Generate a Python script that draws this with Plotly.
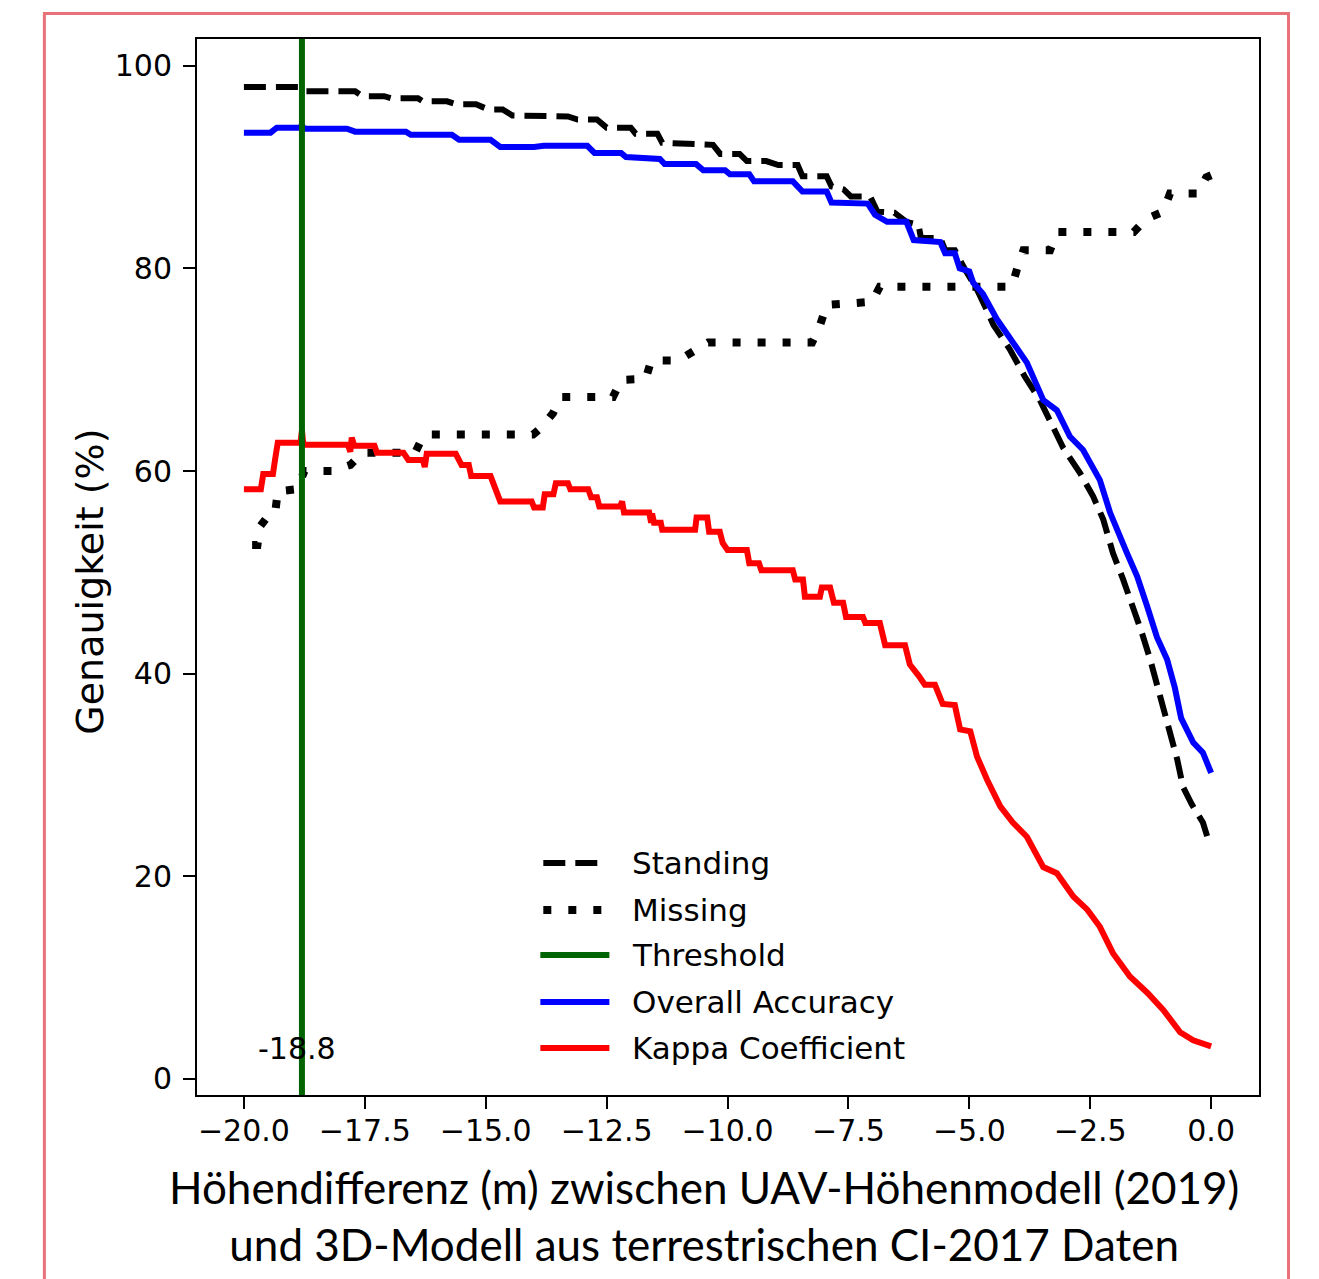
import plotly.graph_objects as go

# ---------------- data ----------------
STANDING = [(-20.0, 97.9), (-18.85, 97.9), (-18.75, 97.5), (-17.7, 97.5), (-17.55, 97.0), (-17.1, 97.0),
            (-16.95, 96.8), (-16.4, 96.8), (-16.3, 96.5), (-15.8, 96.5), (-15.6, 96.2), (-15.2, 96.2),
            (-14.95, 95.7), (-14.65, 95.7), (-14.45, 95.1), (-14.0, 95.1), (-13.75, 95.0), (-13.3, 95.0),
            (-13.1, 94.7), (-12.7, 94.7), (-12.5, 93.9), (-12.0, 93.9), (-11.9, 93.3), (-11.45, 93.3),
            (-11.35, 92.4), (-10.65, 92.3), (-10.3, 92.2), (-10.15, 91.3), (-9.75, 91.3), (-9.6, 90.6),
            (-9.2, 90.6), (-8.95, 90.2), (-8.55, 90.2), (-8.45, 89.1), (-7.95, 89.1), (-7.85, 88.1),
            (-7.6, 87.8), (-7.45, 87.1), (-7.05, 87.1), (-6.9, 85.6), (-6.55, 85.5), (-6.3, 84.6),
            (-6.05, 84.3), (-6.0, 83.0), (-5.6, 83.0), (-5.5, 81.8), (-5.3, 81.8), (-5.1, 80.0),
            (-4.85, 78.0), (-4.65, 76.0), (-4.5, 74.4), (-4.16, 72.0), (-3.85, 69.3), (-3.54, 67.0),
            (-3.33, 65.0), (-3.06, 62.3), (-2.71, 59.8), (-2.44, 57.5), (-2.23, 55.2), (-2.03, 51.9),
            (-1.82, 49.3), (-1.61, 46.6), (-1.43, 44.0), (-1.26, 41.4), (-1.1, 38.7), (-0.95, 36.1),
            (-0.85, 34.2), (-0.7, 31.5), (-0.58, 28.8), (-0.4, 27.1), (-0.17, 25.3), (-0.06, 23.6),
            (0.0, 23.3)]

MISSING = [(-19.83, 52.7), (-19.72, 52.7), (-19.67, 54.5), (-19.45, 55.9), (-19.35, 56.0), (-19.3, 58.0),
           (-18.9, 58.2), (-18.75, 60.0), (-18.18, 60.0), (-17.8, 60.6), (-17.55, 61.8), (-16.46, 61.8),
           (-16.3, 63.4), (-16.2, 63.6), (-14.02, 63.6), (-13.85, 64.3), (-13.61, 65.7), (-13.45, 67.3),
           (-12.37, 67.3), (-12.2, 69.0), (-11.69, 69.1), (-11.58, 70.9), (-11.02, 70.9), (-10.7, 71.8),
           (-10.4, 72.7), (-8.25, 72.7), (-8.1, 74.2), (-7.95, 76.4), (-7.01, 76.7), (-6.85, 78.2),
           (-4.12, 78.2), (-4.01, 80.0), (-3.88, 81.8), (-3.33, 81.8), (-3.18, 83.6), (-1.6, 83.6),
           (-1.34, 84.9), (-0.99, 85.6), (-0.85, 87.4), (-0.27, 87.4), (-0.1, 89.0), (0.0, 89.2)]

OVERALL_ACCURACY = [(-20.0, 93.4), (-19.45, 93.4), (-19.32, 93.9), (-18.85, 93.9), (-18.8, 94.1), (-18.75, 93.8),
                    (-17.87, 93.8), (-17.7, 93.5), (-16.65, 93.5), (-16.55, 93.2), (-15.7, 93.2), (-15.55, 92.7),
                    (-14.9, 92.7), (-14.7, 92.0), (-14.0, 92.0), (-13.8, 92.1), (-12.9, 92.1), (-12.75, 91.4),
                    (-12.2, 91.4), (-12.1, 91.0), (-11.4, 90.8), (-11.3, 90.3), (-10.65, 90.3), (-10.5, 89.7),
                    (-10.05, 89.7), (-9.95, 89.3), (-9.55, 89.3), (-9.45, 88.6), (-8.65, 88.6), (-8.45, 87.6),
                    (-7.95, 87.6), (-7.85, 86.5), (-7.1, 86.4), (-6.95, 85.3), (-6.7, 84.6), (-6.3, 84.6),
                    (-6.15, 82.8), (-5.6, 82.6), (-5.5, 81.5), (-5.3, 81.5), (-5.2, 80.0), (-5.0, 79.7),
                    (-4.92, 78.6), (-4.72, 77.5), (-4.43, 75.0), (-4.1, 72.6), (-3.81, 70.7), (-3.47, 67.0),
                    (-3.19, 66.0), (-2.92, 63.4), (-2.71, 62.4), (-2.65, 62.1), (-2.3, 59.1), (-2.09, 55.9),
                    (-1.74, 51.9), (-1.53, 49.6), (-1.32, 46.6), (-1.12, 43.6), (-0.91, 41.4), (-0.75, 38.6),
                    (-0.62, 35.6), (-0.5, 34.3), (-0.37, 33.2), (-0.17, 32.2), (0.0, 30.2)]

KAPPA = [(-20.0, 58.2), (-19.65, 58.2), (-19.6, 59.7), (-19.4, 59.7), (-19.35, 61.3), (-19.3, 62.8),
         (-18.83, 62.8), (-18.8, 64.0), (-18.77, 62.6), (-17.85, 62.6), (-17.8, 61.9), (-17.77, 63.3),
         (-17.72, 62.5), (-17.3, 62.5), (-17.25, 61.8), (-16.7, 61.8), (-16.6, 61.1), (-16.3, 61.1),
         (-16.26, 60.4), (-16.22, 61.7), (-15.62, 61.7), (-15.5, 60.6), (-15.35, 60.6), (-15.3, 59.5),
         (-14.9, 59.5), (-14.8, 58.4), (-14.7, 57.0), (-14.05, 57.0), (-14.0, 56.4), (-13.82, 56.4),
         (-13.78, 57.7), (-13.6, 57.7), (-13.55, 58.8), (-13.3, 58.8), (-13.25, 58.2), (-12.88, 58.2),
         (-12.82, 57.4), (-12.7, 57.4), (-12.65, 56.5), (-12.22, 56.5), (-12.18, 57.0), (-12.14, 55.9),
         (-11.62, 55.9), (-11.58, 54.9), (-11.56, 55.8), (-11.52, 54.9), (-11.38, 54.9), (-11.35, 54.2),
         (-10.67, 54.2), (-10.64, 55.4), (-10.42, 55.4), (-10.38, 54.0), (-10.16, 54.0), (-10.1, 52.9),
         (-10.0, 52.2), (-9.6, 52.2), (-9.55, 50.9), (-9.35, 50.9), (-9.3, 50.2), (-8.65, 50.2),
         (-8.6, 49.3), (-8.44, 49.3), (-8.4, 47.6), (-8.09, 47.6), (-8.05, 48.5), (-7.88, 48.5),
         (-7.8, 47.0), (-7.61, 47.0), (-7.55, 45.6), (-7.2, 45.6), (-7.15, 45.0), (-6.85, 45.0),
         (-6.8, 44.0), (-6.74, 42.8), (-6.33, 42.8), (-6.23, 40.9), (-6.05, 39.8), (-5.92, 38.9),
         (-5.71, 38.9), (-5.55, 37.0), (-5.3, 36.9), (-5.19, 34.5), (-4.98, 34.3), (-4.84, 31.8),
         (-4.63, 29.5), (-4.36, 26.9), (-4.1, 25.3), (-3.81, 23.9), (-3.47, 20.9), (-3.19, 20.3),
         (-2.85, 18.0), (-2.56, 16.7), (-2.3, 15.0), (-2.03, 12.4), (-1.68, 10.1), (-1.32, 8.5),
         (-0.99, 6.8), (-0.64, 4.6), (-0.37, 3.8), (0.0, 3.2)]

THRESHOLD = -18.8

X_TICKS = [-20.0, -17.5, -15.0, -12.5, -10.0, -7.5, -5.0, -2.5, 0.0]
Y_TICKS = [0, 20, 40, 60, 80, 100]

LEGEND_LABELS = ["Standing", "Missing", "Threshold", "Overall Accuracy", "Kappa Coefficient"]

Y_TITLE = "Genauigkeit (%)"
X_TITLE = "Höhendifferenz (m) zwischen UAV-Höhenmodell (2019)<br>und 3D-Modell aus terrestrischen CI-2017 Daten"

# ---------------- styles ----------------
FONT = "DejaVu Sans"
STYLES = {
    "Standing": dict(color="black", width=6, dash="22px,10px"),
    "Missing": dict(color="black", width=8, dash="8px,17px"),
    "Threshold": dict(color="#006400", width=6, dash="solid"),
    "Overall Accuracy": dict(color="#0000ff", width=6, dash="solid"),
    "Kappa Coefficient": dict(color="#ff0000", width=6, dash="solid"),
}


def xs(series):
    return [p[0] for p in series]


def ys(series):
    return [p[1] for p in series]


fig = go.Figure()
for name, series in [("Standing", STANDING), ("Missing", MISSING),
                     ("Overall Accuracy", OVERALL_ACCURACY), ("Kappa Coefficient", KAPPA)]:
    fig.add_trace(go.Scatter(x=xs(series), y=ys(series), mode="lines", name=name,
                             line=STYLES[name], showlegend=False))

# threshold line (data x, full axis height)
fig.add_shape(type="line", xref="x", yref="paper", x0=THRESHOLD, x1=THRESHOLD, y0=0, y1=1,
              line=dict(color=STYLES["Threshold"]["color"], width=STYLES["Threshold"]["width"]))
fig.add_annotation(x=THRESHOLD, y=3.0, xref="x", yref="y", text=f"{THRESHOLD}", showarrow=False,
                   xshift=-5, font=dict(family=FONT, size=30, color="black"))

# custom legend (matplotlib-like long handles)
leg_rows = [0.2197, 0.1752, 0.1326, 0.0881, 0.0445]
for label, yy in zip(LEGEND_LABELS, leg_rows):
    st = STYLES[label]
    x0, x1 = (0.3233, 0.3883) if st["dash"] == "solid" else (0.3261, 0.3820)
    fig.add_shape(type="line", xref="paper", yref="paper", x0=x0, x1=x1, y0=yy, y1=yy,
                  line=dict(color=st["color"], width=st["width"], dash=st["dash"]))
    fig.add_annotation(x=0.4075, y=yy, xref="paper", yref="paper", text=label, showarrow=False,
                       xanchor="left", yanchor="middle", font=dict(family=FONT, size=31, color="black"))

# axis titles
fig.add_annotation(x=-0.1008, y=0.486, xref="paper", yref="paper", text=Y_TITLE, showarrow=False,
                   textangle=-90, xanchor="center", yanchor="middle",
                   font=dict(family=FONT, size=38, color="black"))
fig.add_annotation(x=0.4774, y=-0.0606, xref="paper", yref="paper", text=X_TITLE, showarrow=False,
                   xanchor="center", yanchor="top", align="center",
                   font=dict(family="Lato", size=44, color="black"))

# outer pink frame
fig.add_shape(type="path", xref="paper", yref="paper",
              path="M -0.1437,-0.3 L -0.1437,1.0241 L 1.0278,1.0241 L 1.0278,-0.3",
              line=dict(color="#E97178", width=3))

axis_common = dict(showline=True, linecolor="black", linewidth=2, mirror=True,
                   ticks="outside", ticklen=12, tickwidth=2, tickcolor="black",
                   showgrid=False, zeroline=False,
                   tickfont=dict(family=FONT, size=30, color="black"))

# page body has an 8px margin, so the figure is 8px smaller and margins shifted by 8px
fig.update_layout(
    width=1311, height=1271, autosize=False,
    margin=dict(l=189, r=60, t=31, b=184),
    paper_bgcolor="white", plot_bgcolor="white",
    showlegend=False,
    xaxis=dict(range=[-20.97, 0.99], tickvals=X_TICKS,
               ticktext=[f"{v:.1f}".replace("-", "\u2212") for v in X_TICKS],
               ticklabelstandoff=-4, **axis_common),
    yaxis=dict(range=[-1.6, 102.65], tickvals=Y_TICKS,
               ticktext=[str(v) for v in Y_TICKS], ticklabelstandoff=5, **axis_common),
)

fig.write_html("out.html")
